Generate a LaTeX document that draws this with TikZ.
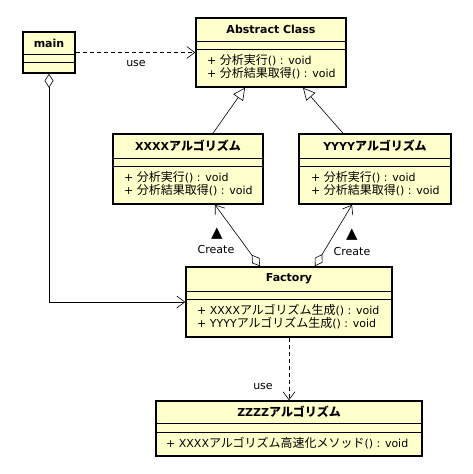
\documentclass[tikz,border=0pt]{standalone}
\usepackage{fontspec}
\setmainfont{DejaVu Sans}
\newfontfamily\jp{Noto Sans CJK JP}[Scale=1.09]
\usetikzlibrary{arrows.meta}
\definecolor{clsfill}{RGB}{255,255,204}
\tikzset{
  cls/.style={draw, line width=1.6pt, fill=clsfill, inner sep=0pt},
  clsname/.style={font=\bfseries\fontsize{11}{12}\selectfont, inner sep=0pt},
  clsops/.style={font=\fontsize{11}{13}\selectfont, align=left, anchor=west, inner sep=0pt},
  lbl/.style={font=\fontsize{11}{12}\selectfont, inner sep=0pt},
  dep/.style={dash pattern=on 4pt off 3pt, -{Straight Barb[length=8pt,width=12pt]}},
  inherit/.style={-{Triangle[length=12pt,width=12pt,fill=white]}},
  aggr/.style={{Diamond[length=14pt,width=9pt,fill=white]}-{Straight Barb[length=8pt,width=12pt]}}
}
\begin{document}
\begin{tikzpicture}[x=1pt,y=-1pt]
  \useasboundingbox (0,0) rectangle (473,474);
  % class boxes
  \node[cls, minimum width=52pt, minimum height=41pt] (main) at (49,52.5) {};
  \node[cls, minimum width=150pt, minimum height=69pt] (abs) at (271,52.5) {};
  \node[cls, minimum width=150pt, minimum height=70pt] (xxxx) at (188,169) {};
  \node[cls, minimum width=152pt, minimum height=70pt] (yyyy) at (375,169) {};
  \node[cls, minimum width=206pt, minimum height=70pt] (fac) at (289,302) {};
  \node[cls, minimum width=266pt, minimum height=55pt] (zzzz) at (289,428.5) {};
  \begin{scope}[line width=0.6pt]
    \draw (23,54) -- (75,54) (23,62) -- (75,62);
    \draw (196,41) -- (346,41) (196,49) -- (346,49);
    \draw (113,158) -- (263,158) (113,166) -- (263,166);
    \draw (299,158) -- (451,158) (299,166) -- (451,166);
    \draw (186,291) -- (392,291) (186,299) -- (392,299);
    \draw (156,423) -- (422,423) (156,432) -- (422,432);
  \end{scope}
  % names and operations
  \node[clsname] (mainname) at (49,43) {main};
  \node[clsname] (absname) at (271,29.5) {Abstract Class};
  \node[clsops] (absops) at (207,66.5) {+ {\jp 分析実行}() : void\\+ {\jp 分析結果取得}() : void};
  \node[clsname] (xxxxname) at (188,146) {XXXX{\jp アルゴリズム}};
  \node[clsops] (xxxxops) at (124,184) {+ {\jp 分析実行}() : void\\+ {\jp 分析結果取得}() : void};
  \node[clsname] (yyyyname) at (375,146) {YYYY{\jp アルゴリズム}};
  \node[clsops] (yyyyops) at (311,184) {+ {\jp 分析実行}() : void\\+ {\jp 分析結果取得}() : void};
  \node[clsname] (facname) at (289,279) {Factory};
  \node[clsops] (facops) at (197,316.5) {+ XXXX{\jp アルゴリズム生成}() : void\\+ YYYY{\jp アルゴリズム生成}() : void};
  \node[clsname] (zzzzname) at (289,412) {ZZZZ{\jp アルゴリズム}};
  \node[clsops] (zzzzops) at (166,443) {+ XXXX{\jp アルゴリズム高速化メソッド}() : void};
  % connectors
  \begin{scope}[line width=0.6pt]
    \draw[dep] (main) -- (abs);
    \draw[inherit] ([xshift=25pt]xxxx.north) -- ([xshift=-26pt]abs.south);
    \draw[inherit] ([xshift=-32pt]yyyy.north) -- ([xshift=32pt]abs.south);
    \draw[aggr] ([xshift=-29pt]fac.north) -- ([xshift=27pt]xxxx.south);
    \draw[aggr] ([xshift=26pt]fac.north) -- ([xshift=-23pt]yyyy.south);
    \draw[aggr] (main.south) |- (fac.west);
    \draw[dep] (fac) -- (zzzz);
  \end{scope}
  % labels
  \node[lbl] (use1) at (136,63) {use};
  \node[lbl, font=\fontsize{15}{15}\selectfont] (tri1) at (217,234) {▲};
  \node[lbl] (create1) at (216,249) {Create};
  \node[lbl, font=\fontsize{15}{15}\selectfont] (tri2) at (352,235) {▲};
  \node[lbl] (create2) at (352,251) {Create};
  \node[lbl] (use2) at (263,386) {use};
\end{tikzpicture}
\end{document}
